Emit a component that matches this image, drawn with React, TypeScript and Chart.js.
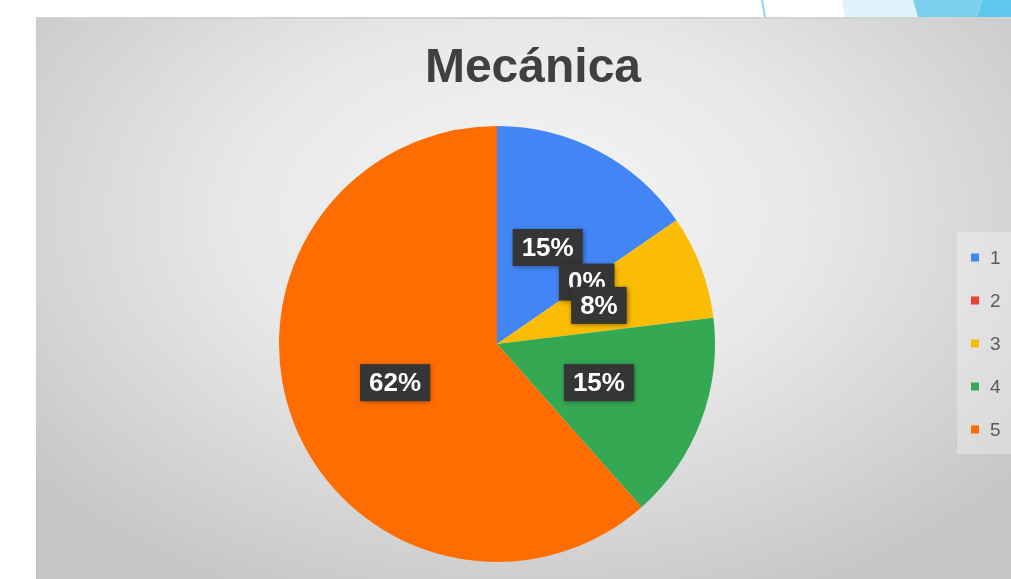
import React, { useEffect, useRef } from "react";
import { Chart, PieController, ArcElement } from "chart.js";

Chart.register(PieController, ArcElement);

const TITLE = "Mecánica";
const CATEGORIES = ["1", "2", "3", "4", "5"];
const COUNTS = [2, 0, 1, 2, 8];
const COLORS = ["#4285F4", "#EA4335", "#FBBC04", "#34A853", "#FF6D01"];

const FONT = "'Liberation Sans', Arial, Helvetica, sans-serif";

const overlayPlugin = {
  id: "overlay",
  afterDatasetsDraw(chart: any) {
    const ctx = chart.ctx as CanvasRenderingContext2D;
    const meta = chart.getDatasetMeta(0);
    const values = chart.data.datasets[0].data as number[];
    const total = values.reduce((a, b) => a + b, 0);
    ctx.save();
    // data labels
    ctx.font = `bold 26px ${FONT}`;
    ctx.textAlign = "center";
    ctx.textBaseline = "middle";
    meta.data.forEach((arc: any, i: number) => {
      const txt = Math.round((values[i] / total) * 100) + "%";
      const p = arc.tooltipPosition();
      const w = ctx.measureText(txt).width + 18;
      const h = 37;
      ctx.save();
      ctx.shadowColor = "rgba(0,0,0,0.45)";
      ctx.shadowBlur = 5;
      ctx.shadowOffsetX = 1;
      ctx.shadowOffsetY = 1;
      ctx.fillStyle = "#353535";
      ctx.fillRect(p.x - w / 2, p.y - h / 2, w, h);
      ctx.restore();
      ctx.fillStyle = "#ffffff";
      ctx.fillText(txt, p.x, p.y + 1);
    });
    // title
    ctx.font = `bold 48px ${FONT}`;
    ctx.fillStyle = "#404040";
    ctx.textAlign = "center";
    ctx.textBaseline = "alphabetic";
    ctx.fillText(TITLE, 497, 65);
    // legend
    const labels = chart.data.labels as string[];
    const colors = chart.data.datasets[0].backgroundColor as string[];
    ctx.fillStyle = "rgba(255,255,255,0.3)";
    ctx.fillRect(921, 215, 60, 222);
    ctx.font = `19px ${FONT}`;
    ctx.textAlign = "left";
    ctx.textBaseline = "middle";
    labels.forEach((lab, i) => {
      const y = 240.5 + i * 43;
      ctx.fillStyle = colors[i];
      ctx.fillRect(935, y - 4, 8, 8);
      ctx.fillStyle = "#595959";
      ctx.fillText(lab, 954, y + 1);
    });
    ctx.restore();
  },
};

export default function App() {
  const ref = useRef<HTMLCanvasElement | null>(null);
  useEffect(() => {
    if (!ref.current) return;
    const chart = new Chart(ref.current, {
      type: "pie",
      data: {
        labels: CATEGORIES,
        datasets: [
          {
            data: COUNTS,
            backgroundColor: COLORS,
            borderWidth: 0,
          },
        ],
      },
      options: {
        responsive: false,
        animation: false,
        devicePixelRatio: 1,
        layout: { padding: { left: 243, right: 296, top: 109, bottom: 17 } },
        plugins: {
          legend: { display: false },
          tooltip: { enabled: false },
        },
      },
      plugins: [overlayPlugin],
    });
    return () => chart.destroy();
  }, []);

  return (
    <div style={{ position: "absolute", left: 0, top: 0, width: 1011, height: 579, background: "#ffffff", overflow: "hidden" }}>
      <svg width={1011} height={18} style={{ position: "absolute", left: 0, top: 0 }}>
        <polygon points="761,0 763,0 766,17 764,17" fill="#8fd6ef" />
        <polygon points="842,0 913,0 918,17 845,17" fill="#dff3fa" />
        <polygon points="913,0 982,0 977,17 918,17" fill="#7ccfee" />
        <polygon points="982,0 1011,0 1011,17 977,17" fill="#5ec8ec" />
      </svg>
      <div
        style={{
          position: "absolute",
          left: 36,
          top: 17,
          width: 975,
          height: 562,
          background: "radial-gradient(ellipse 65% 75% at 50% 35%, #f6f6f6 0%, #e8e8e8 45%, #c6c6c6 100%)",
          borderTop: "2px solid #d2d2d2",
          boxSizing: "border-box",
        }}
      />
      <canvas ref={ref} width={975} height={562} style={{ position: "absolute", left: 36, top: 17, width: 975, height: 562 }} />
    </div>
  );
}
